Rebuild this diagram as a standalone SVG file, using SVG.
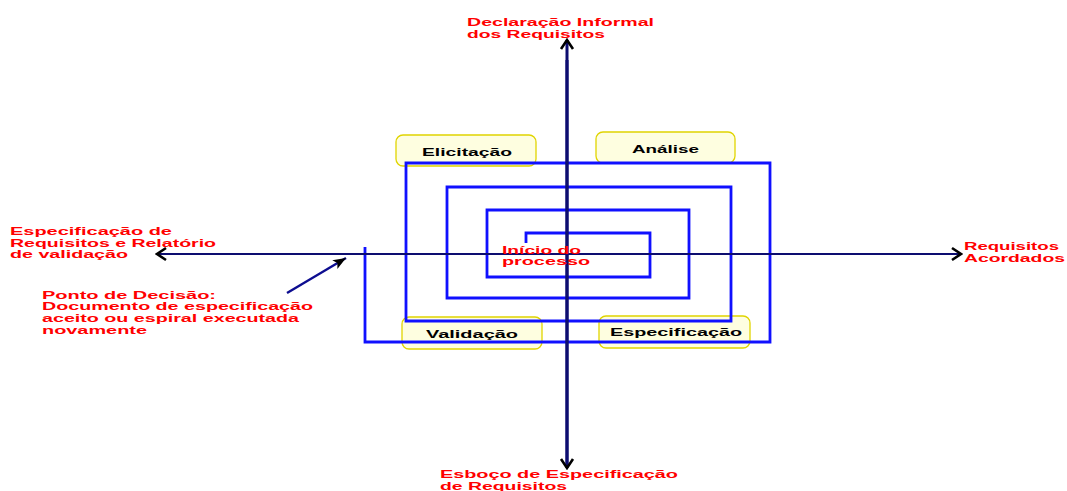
<svg xmlns="http://www.w3.org/2000/svg" width="1067" height="491" viewBox="0 0 1067 491">
  <defs>
    <style>
      .phase rect { fill: #fefee0; stroke: #e0d400; stroke-width: 1.3; }
      .phase text { font-family: "Liberation Sans", Arial, sans-serif; font-weight: bold; font-size: 11.5px; fill: #000; }
      .note { font-family: "Liberation Sans", Arial, sans-serif; font-weight: bold; font-size: 11px; fill: #ff0000; }
      .spiral { fill: none; stroke: #1010ff; stroke-width: 2.8; stroke-linejoin: miter; }
      .axis { fill: none; stroke: #0d0d70; }
    </style>
    <marker id="chevron" viewBox="-12 -8 14 16" refX="0" refY="0" markerWidth="14" markerHeight="16" markerUnits="userSpaceOnUse" orient="auto">
      <path d="M-9,-6 L0,0 L-9,6" fill="none" stroke="#000" stroke-width="2.6" stroke-linejoin="miter"/>
    </marker>
    <marker id="pointer" viewBox="-14 -7 16 14" refX="0" refY="0" markerWidth="16" markerHeight="14" markerUnits="userSpaceOnUse" orient="auto">
      <path d="M-13,-5 L0,0 L-13,5 L-10,0 Z" fill="#000"/>
    </marker>
  </defs>

  <rect width="1067" height="491" fill="#ffffff"/>

  <!-- phase labels -->
  <g id="elicitacao" class="phase">
    <rect x="396" y="135" width="140" height="31" rx="7"/>
    <text x="422" y="156" textLength="90" lengthAdjust="spacingAndGlyphs">Elicitação</text>
  </g>
  <g id="analise" class="phase">
    <rect x="596" y="132" width="139" height="31" rx="7"/>
    <text x="632" y="152.5" textLength="67" lengthAdjust="spacingAndGlyphs">Análise</text>
  </g>
  <g id="validacao" class="phase">
    <rect x="402" y="317" width="140" height="32" rx="7"/>
    <text x="426" y="337.5" textLength="92" lengthAdjust="spacingAndGlyphs">Validação</text>
  </g>
  <g id="especificacao" class="phase">
    <rect x="599" y="316" width="151" height="32" rx="7"/>
    <text x="610" y="336" textLength="132" lengthAdjust="spacingAndGlyphs">Especificação</text>
  </g>

  <!-- process spiral, from the centre outwards -->
  <g id="spiral">
    <path class="spiral" d="M526,243 V233 H650 V277 H487 V210 H689 V298 H447 V187 H731 V321 H406 V163 H770 V342 H365 V247"/>
  </g>

  <!-- connectors -->
  <g id="connectors">
    <line class="axis" x1="567" y1="466" x2="567" y2="40" stroke-width="3" marker-end="url(#chevron)"/>
    <line class="axis" x1="567" y1="60" x2="567" y2="468" stroke-width="3" marker-end="url(#chevron)"/>
    <line class="axis" x1="560" y1="254" x2="157" y2="254" stroke-width="2" marker-end="url(#chevron)"/>
    <line class="axis" x1="560" y1="254" x2="961" y2="254" stroke-width="2" marker-end="url(#chevron)"/>
    <line x1="287" y1="293" x2="346" y2="258" stroke="#0d0d90" stroke-width="2.4" marker-end="url(#pointer)"/>
  </g>

  <!-- annotations -->
  <g id="inicio">
    <text class="note" x="502" y="254" textLength="79" lengthAdjust="spacingAndGlyphs">Início do</text>
    <text class="note" x="502" y="265" textLength="88" lengthAdjust="spacingAndGlyphs">processo</text>
  </g>
  <g id="declaracao">
    <text class="note" x="467" y="25.5" textLength="187" lengthAdjust="spacingAndGlyphs" style="font-size:11.5px">Declaração Informal</text>
    <text class="note" x="467" y="37.5" textLength="138" lengthAdjust="spacingAndGlyphs" style="font-size:11.5px">dos Requisitos</text>
  </g>
  <g id="esboco">
    <text class="note" x="440" y="477.5" textLength="238" lengthAdjust="spacingAndGlyphs">Esboço de Especificação</text>
    <text class="note" x="440" y="489.5" textLength="127" lengthAdjust="spacingAndGlyphs">de Requisitos</text>
  </g>
  <g id="especificacao-relatorio">
    <text class="note" x="10" y="235" textLength="162" lengthAdjust="spacingAndGlyphs">Especificação de</text>
    <text class="note" x="10" y="246.5" textLength="206" lengthAdjust="spacingAndGlyphs">Requisitos e Relatório</text>
    <text class="note" x="10" y="258" textLength="118" lengthAdjust="spacingAndGlyphs">de validação</text>
  </g>
  <g id="requisitos-acordados">
    <text class="note" x="964" y="250" textLength="95" lengthAdjust="spacingAndGlyphs">Requisitos</text>
    <text class="note" x="964" y="261.5" textLength="101" lengthAdjust="spacingAndGlyphs">Acordados</text>
  </g>
  <g id="ponto-decisao">
    <text class="note" x="42" y="298.5" textLength="174" lengthAdjust="spacingAndGlyphs">Ponto de Decisão:</text>
    <text class="note" x="42" y="310" textLength="271" lengthAdjust="spacingAndGlyphs">Documento de especificação</text>
    <text class="note" x="42" y="322" textLength="257" lengthAdjust="spacingAndGlyphs">aceito ou espiral executada</text>
    <text class="note" x="42" y="334" textLength="105" lengthAdjust="spacingAndGlyphs">novamente</text>
  </g>
</svg>
